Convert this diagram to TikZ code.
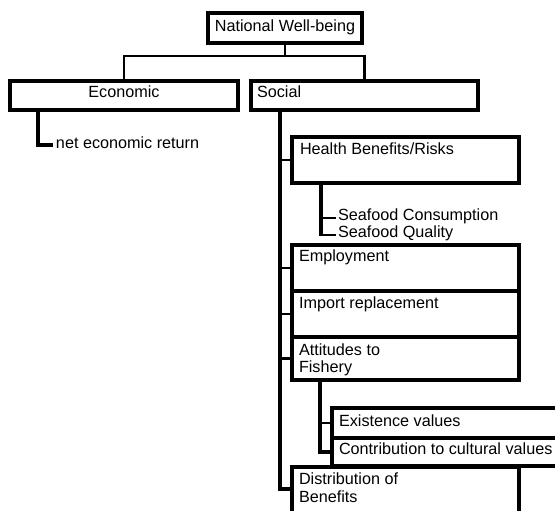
\documentclass[tikz,border=0pt]{standalone}
\usepackage{fontspec}
\setmainfont{Liberation Sans}
\begin{document}
\begin{tikzpicture}[x=1pt,y=-1pt,
  box/.style={draw=black, line width=3.4pt, inner sep=0pt, outer sep=0pt, anchor=north west, line join=miter},
  lbl/.style={inner sep=0pt, outer sep=0pt, font=\fontsize{16.2}{17}\selectfont, anchor=base west},
  conn/.style={draw=black, line width=2.6pt, line join=miter},
  trunkline/.style={draw=black, line width=3.4pt, line join=miter},
  lead/.style={draw=black, line width=1.7pt}]
\useasboundingbox (0,0) rectangle (555,511);
\fill[white] (0,0) rectangle (555,511);
\clip (0,0) rectangle (555,511);

% boxes
\node[box, minimum width=154pt, minimum height=30pt] (nwb) at (208,13) {};
\node[box, minimum width=228pt, minimum height=29pt] (econ) at (10,81) {};
\node[box, minimum width=227pt, minimum height=29pt] (social) at (251,81) {};
\node[box, minimum width=227pt, minimum height=46pt] (health) at (292,137) {};
\node[box, minimum width=227pt, minimum height=46pt] (employ) at (292,245) {};
\node[box, minimum width=227pt, minimum height=46pt] (import) at (292,291) {};
\node[box, minimum width=227pt, minimum height=43pt] (attit) at (292,337) {};
\node[box, minimum width=240pt, minimum height=30pt] (exist) at (332,408) {};
\node[box, minimum width=240pt, minimum height=28pt] (contrib) at (332,438) {};
\node[box, minimum width=227pt, minimum height=70pt] (distrib) at (292,467) {};

% texts
\node[lbl, anchor=base] (tnwb) at (285,32) {National Well-being};
\node[lbl, anchor=base] (tecon) at (124,98) {Economic};
\node[lbl] (tsoc) at (257,98) {Social};
\node[lbl] (tret) at (56,148) {net economic return};
\node[lbl] (thealth) at (300,154) {Health Benefits/Risks};
\node[lbl] (tcons) at (338,220) {Seafood Consumption};
\node[lbl] (tqual) at (338,237) {Seafood Quality};
\node[lbl] (temp) at (299,261) {Employment};
\node[lbl] (timp) at (299,308) {Import replacement};
\node[lbl] (tatt1) at (299,355) {Attitudes to};
\node[lbl] (tatt2) at (299,372) {Fishery};
\node[lbl] (texist) at (339,426) {Existence values};
\node[lbl] (tcontrib) at (339,454) {Contribution to cultural values};
\node[lbl] (tdist1) at (299,484) {Distribution of};
\node[lbl] (tdist2) at (299,502) {Benefits};

% top connector
\coordinate (j) at (285,56);
\draw[conn] (nwb.south) -- (j);
\draw[conn] (econ.north) |- (j) -| (social.north);

% economic branch
\coordinate (retlead) at (53,145);
\draw[trunkline] ([xshift=28pt]econ.south west) |- (retlead);

% social trunk
\coordinate (tr) at (280,110);
\coordinate (dst) at (292,489);
\draw[trunkline] (tr) |- (dst);
\foreach \n in {health,employ,import,attit} \draw[conn] (tr |- \n.west) -- (\n.west);

% health sub-branch
\coordinate (hs) at (321,183);
\coordinate (c1) at (336,218);
\coordinate (c2) at (336,235);
\draw[trunkline] (hs) -- ([yshift=0.85pt]hs |- c2);
\draw[lead] (hs |- c1) -- (c1);
\draw[lead] ([xshift=-1.7pt]hs |- c2) -- (c2);

% attitudes sub-branch
\coordinate (as) at (320,380);
\draw[trunkline] (as) |- (contrib.west);
\draw[conn] (as |- exist.west) -- (exist.west);
\end{tikzpicture}
\end{document}
